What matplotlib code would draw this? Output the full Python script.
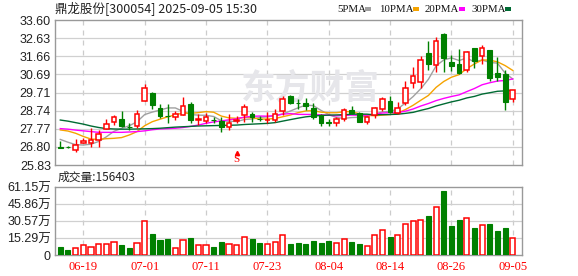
import numpy as np
import pandas as pd
import matplotlib
matplotlib.use('Agg')
import matplotlib.pyplot as plt
from matplotlib.patches import Rectangle

plt.rcParams['font.family'] = ['Liberation Sans', 'Noto Sans CJK SC', 'DejaVu Sans']

# trading days 06-16 .. 09-05
dates = ['06-16', '06-17', '06-18', '06-19', '06-20', '06-23', '06-24', '06-25', '06-26', '06-27', '06-30',
         '07-01', '07-02', '07-03', '07-04', '07-07', '07-08', '07-09', '07-10', '07-11', '07-14', '07-15',
         '07-16', '07-17', '07-18', '07-21', '07-22', '07-23', '07-24', '07-25', '07-28', '07-29', '07-30',
         '07-31', '08-01', '08-04', '08-05', '08-06', '08-07', '08-08', '08-11', '08-12', '08-13', '08-14',
         '08-15', '08-18', '08-19', '08-20', '08-21', '08-22', '08-25', '08-26', '08-27', '08-28', '08-29',
         '09-01', '09-02', '09-03', '09-04', '09-05']

opens = [26.79, 26.80, 26.62, 26.99, 26.99, 27.17, 27.76, 28.12, 28.28, 27.88,
         27.92, 29.28, 29.67, 28.87, 28.47, 28.39, 28.53, 29.10, 28.26, 28.20,
         28.26, 28.19, 27.88, 28.19, 28.51, 28.58, 28.31, 28.23, 28.24, 28.70,
         29.53, 29.17, 29.17, 28.90, 28.51, 28.11, 28.10, 28.30, 28.78, 28.60,
         28.15, 28.51, 28.81, 29.28, 28.63, 29.17, 30.24, 30.28, 31.82, 31.19,
         32.85, 31.37, 31.24, 30.92, 32.08, 31.69, 31.99, 30.78, 30.71, 29.37]
closes = [26.76, 26.77, 26.90, 27.12, 27.17, 27.49, 28.01, 28.39, 27.92, 27.86,
          28.55, 29.94, 29.06, 28.45, 28.44, 28.55, 29.01, 28.22, 28.29, 28.39,
          28.23, 27.88, 28.08, 28.22, 28.92, 28.38, 28.29, 28.25, 28.55, 29.36,
          29.17, 29.13, 28.99, 28.40, 28.08, 28.08, 28.30, 28.78, 28.63, 28.15,
          28.39, 28.87, 29.35, 28.69, 28.90, 29.94, 30.60, 31.46, 31.23, 32.47,
          31.55, 31.15, 30.74, 31.90, 31.42, 32.08, 30.48, 30.56, 29.22, 29.85]
highs = [27.13, 26.85, 27.21, 27.29, 27.80, 27.71, 28.28, 28.51, 28.74, 28.06,
         28.78, 30.17, 29.75, 29.12, 29.08, 28.72, 29.48, 29.22, 28.55, 28.60,
         28.42, 28.39, 28.55, 28.45, 29.12, 28.67, 28.45, 28.69, 28.81, 29.51,
         29.58, 29.37, 29.40, 29.17, 28.55, 28.28, 28.39, 28.87, 28.99, 28.65,
         28.45, 28.95, 29.46, 29.53, 29.19, 30.33, 31.08, 31.67, 32.47, 32.70,
         32.92, 31.72, 32.05, 31.94, 32.08, 32.26, 31.99, 31.63, 30.92, 29.85]
lows = [26.72, 26.74, 26.51, 26.99, 26.78, 26.81, 27.76, 27.97, 27.88, 27.71,
        27.80, 29.28, 28.85, 28.35, 28.06, 28.24, 28.51, 28.06, 27.99, 28.06,
        28.06, 27.58, 27.71, 28.06, 28.15, 28.15, 28.19, 28.06, 28.15, 28.50,
        29.10, 28.85, 28.78, 28.28, 27.94, 27.92, 27.94, 28.20, 28.56, 28.15,
        28.03, 28.33, 28.74, 28.63, 28.55, 29.04, 29.95, 29.96, 30.92, 30.83,
        30.83, 30.88, 30.71, 30.83, 31.04, 31.23, 30.33, 30.33, 28.78, 29.22]
# volume in 万
vols = [7.5, 4.5, 6.0, 9.0, 7.2, 9.6, 9.6, 11.4, 9.0, 6.3,
        10.5, 30.6, 18.9, 13.5, 14.4, 6.0, 13.2, 15.3, 9.0, 9.0,
        7.5, 11.7, 9.6, 9.0, 15.9, 14.4, 10.8, 9.9, 11.4, 18.0,
        9.9, 10.8, 10.2, 12.6, 10.8, 12.6, 10.8, 14.1, 11.7, 9.9,
        8.1, 17.7, 22.2, 16.2, 17.7, 27.6, 30.3, 31.2, 35.1, 42.9,
        57.5, 26.1, 31.5, 33.0, 24.6, 26.7, 27.9, 21.3, 24.6, 15.64]

# moving averages before the window is full
ma5_head = [27.20, 27.05, 26.92, 26.90]
ma10_head = [27.71, 27.65, 27.53, 27.36, 27.22, 27.20, 27.24, 27.26, 27.30]
ma20_head = [27.78, 27.75, 27.70, 27.66, 27.62, 27.58, 27.58, 27.58, 27.58, 27.60,
             27.62, 27.66, 27.72, 27.76, 27.78, 27.80, 27.84, 27.90, 27.97]
ma30_head = [28.24, 28.18, 28.10, 28.02, 27.92, 27.84, 27.78, 27.76, 27.75, 27.75,
             27.76, 27.77, 27.78, 27.80, 27.83, 27.86, 27.88, 27.90, 27.92, 27.93,
             27.94, 27.95, 27.96, 27.97, 28.00, 28.02, 28.04, 28.06, 28.10]

price_ticks = [25.83, 26.80, 27.77, 28.74, 29.71, 30.69, 31.66, 32.63, 33.60]
vol_ticks = [0, 15.29, 30.57, 45.86, 61.15]
vol_labels = ['0', '15.29万', '30.57万', '45.86万', '61.15万']
date_labels = ['06-19', '07-01', '07-11', '07-23', '08-04', '08-14', '08-26', '09-05']

RED = '#ff0000'
GREEN = '#008000'
ma_colors = ['#a0a0a0', '#f5a300', '#ff00ff', '#006b33']
ma_names = ['5PMA', '10PMA', '20PMA', '30PMA']


def ma(n, head):
    s = pd.Series(closes).rolling(n).mean().to_numpy()
    s[:len(head)] = head
    return s


x = np.arange(len(dates))
o = np.array(opens)
c = np.array(closes)
up = c >= o
xt = [dates.index(d) for d in date_labels]

fig = plt.figure(figsize=(5.78, 2.76), dpi=100)
W, H = 578, 276
ax = fig.add_axes([55 / W, 1 - 165 / H, 467 / W, 145 / H])
axv = fig.add_axes([55 / W, 1 - 255 / H, 467 / W, 68 / H])

for a in (ax, axv):
    a.set_xlim(-0.69, 60.2)
    for sp in a.spines.values():
        sp.set_color('#999999')
        sp.set_linewidth(1)
    for t in xt:
        a.axvline(t, color='#cccccc', lw=0.9, dashes=(4, 4), zorder=0)
    a.tick_params(length=0, pad=3, labelsize=9, colors='#222222')

# price panel
ax.set_ylim(25.83, 33.60)
ax.set_yticks(price_ticks)
ax.set_yticklabels(['%.2f' % v for v in price_ticks])
for v in price_ticks[1:-1]:
    ax.axhline(v, color='#d0d0d0', lw=0.9, zorder=0)
ax.set_xticks([])

ax.text(0.546, 0.53, '东方财富', transform=ax.transAxes, ha='center', va='center',
        fontsize=25, fontweight='bold', color='#e6e6ea', family=['Noto Sans CJK SC'], zorder=0)

ma_lines = [ma(5, ma5_head), ma(10, ma10_head), ma(20, ma20_head), ma(30, ma30_head)]
for line, col in zip(ma_lines, ma_colors):
    ax.plot(x, line, color=col, lw=1, zorder=2)

cols = np.where(up, RED, GREEN)
ax.vlines(x, lows, highs, colors=cols, lw=1, zorder=3)
bottoms = np.minimum(o, c)
heights = np.maximum(np.abs(c - o), 0.012)
ax.bar(x[up], heights[up], bottom=bottoms[up], width=0.62, facecolor='white',
       edgecolor=RED, lw=1.1, zorder=4)
ax.bar(x[~up], heights[~up], bottom=bottoms[~up], width=0.62, facecolor=GREEN,
       edgecolor=GREEN, lw=0.8, zorder=4)

ax.plot(23, 26.45, marker='^', ms=3, color=RED, zorder=5)
ax.text(23, 26.12, 'S', color=RED, ha='center', va='center', fontsize=8,
        family=['Liberation Serif'])

# volume panel
v = np.array(vols)
axv.set_ylim(0, 61.15)
axv.set_yticks(vol_ticks)
axv.set_yticklabels(vol_labels)
for t in vol_ticks[1:-1]:
    axv.axhline(t, color='#d0d0d0', lw=0.9, zorder=0)
axv.bar(x[up], v[up], width=0.66, facecolor='white', edgecolor=RED, lw=1.1, zorder=3)
axv.bar(x[~up], v[~up], width=0.66, facecolor=GREEN, edgecolor=GREEN, lw=0.8, zorder=3)
axv.set_xticks(xt)
axv.set_xticklabels(date_labels, color=RED, fontsize=9, family=['Liberation Serif'])
axv.tick_params(axis='x', pad=4)

# header texts
fig.text(55 / W, 1 - 9 / H, '鼎龙股份[300054] 2025-09-05 15:30', fontsize=9,
         va='center', ha='left', color='#222222', family=['Noto Sans CJK SC'])
fig.text(58 / W, 1 - 177 / H, '成交量:156403', fontsize=8.5, va='center', ha='left',
         color='#222222', family=['Noto Sans CJK SC'])

leg_x = [337, 379, 425, 471]
sq_x = [365, 413, 459, 505]
for name, col, lx, sx in zip(ma_names, ma_colors, leg_x, sq_x):
    fig.text(lx / W, 1 - 9 / H, name, fontsize=7.8, va='center', ha='left',
             color='#111111', family=['Liberation Serif'])
    fig.add_artist(Rectangle((sx / W, 1 - 11 / H), 6 / W, 4 / H, transform=fig.transFigure,
                             facecolor=col, edgecolor='none'))

fig.savefig('out.png', dpi=100)
